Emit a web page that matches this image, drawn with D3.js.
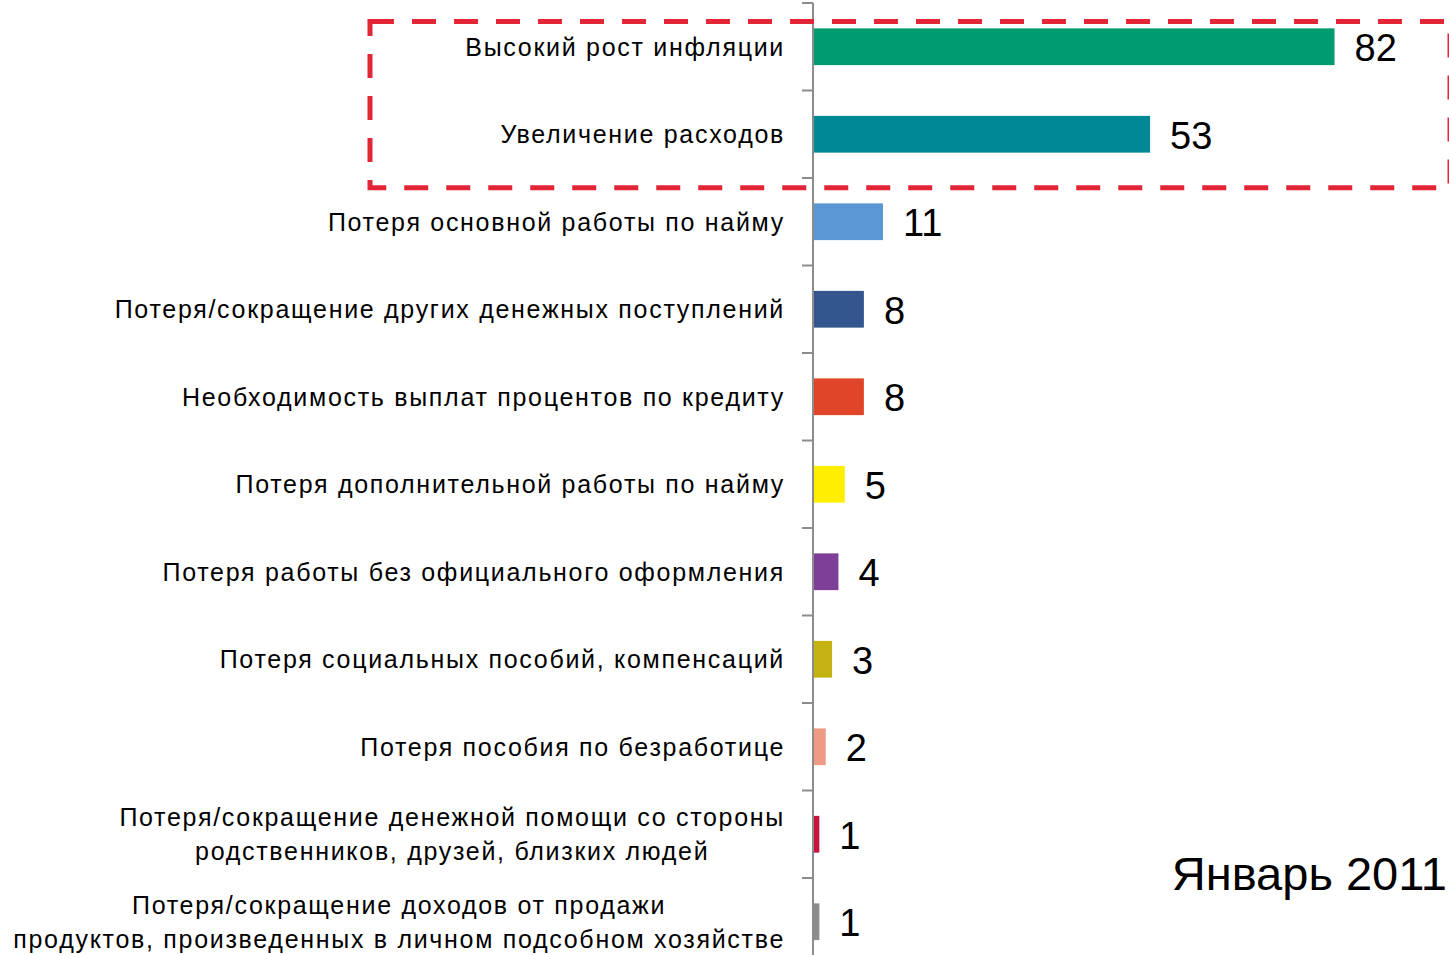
<!DOCTYPE html>
<html>
<head>
<meta charset="utf-8">
<script src="https://cdn.jsdelivr.net/npm/d3@7"></script>
<style>
  body { margin: 0; background: #fff; }
  svg { display: block; }
</style>
</head>
<body>
<div id="chart"></div>
<script>
// categories (top to bottom), lines split where the label wraps
const categories = [
    ["Высокий рост инфляции"],
    ["Увеличение расходов"],
    ["Потеря основной работы по найму"],
    ["Потеря/сокращение других денежных поступлений"],
    ["Необходимость выплат процентов по кредиту"],
    ["Потеря дополнительной работы по найму"],
    ["Потеря работы без официального оформления"],
    ["Потеря социальных пособий, компенсаций"],
    ["Потеря пособия по безработице"],
    ["Потеря/сокращение денежной помощи со стороны", "родственников, друзей, близких людей"],
    ["Потеря/сокращение доходов от продажи", "продуктов, произведенных в личном подсобном хозяйстве"]
];
const values = [82, 53, 11, 8, 8, 5, 4, 3, 2, 1, 1];
const colors = ["#009b6e", "#008896", "#5b97d3", "#34568e", "#e0452a", "#ffee00",
                "#7d3f98", "#c4b212", "#ee9a85", "#c8143c", "#8c8c8c"];
const highlighted = [0, 1];
const periodLabel = "Январь 2011";

const width = 1449, height = 955;
const margin = {top: 3, left: 813};

const svg = d3.select("#chart").append("svg")
    .attr("width", width)
    .attr("height", height);

// x scale: 0..100 fills the space right of the axis
const x = d3.scaleLinear()
    .domain([0, 100])
    .range([margin.left, width]);

// one band per category, 87.5px each
const y = d3.scaleBand()
    .domain(d3.range(categories.length))
    .range([margin.top, margin.top + 87.5 * categories.length])
    .paddingInner(0.58)
    .paddingOuter(0.29);

const step = y.step();

// bars
svg.append("g")
    .selectAll("rect")
    .data(values)
    .enter().append("rect")
    .attr("x", x(0))
    .attr("y", (d, i) => y(i))
    .attr("width", d => x(d) - x(0))
    .attr("height", y.bandwidth())
    .attr("fill", (d, i) => colors[i]);

// axis line with ticks between categories (Excel style)
const axis = svg.append("g").attr("stroke", "#8c8c8c").attr("stroke-width", 2);
axis.append("line")
    .attr("x1", x(0)).attr("x2", x(0))
    .attr("y1", margin.top).attr("y2", height);
d3.range(categories.length + 1).forEach(i => {
    const yy = margin.top + i * step;
    axis.append("line")
        .attr("x1", x(0) - 11).attr("x2", x(0))
        .attr("y1", yy).attr("y2", yy);
});

// value labels
svg.append("g")
    .selectAll("text")
    .data(values)
    .enter().append("text")
    .attr("x", d => x(d) + 20)
    .attr("y", (d, i) => y(i) + y.bandwidth() / 2)
    .attr("dy", "0.38em")
    .attr("font-family", "'Liberation Sans', Arial, sans-serif")
    .attr("font-size", 38)
    .attr("fill", "#000")
    .text(d => d);

// category labels, multi-line ones centred as a block
const labelRight = 785;
const lineGap = 34;
const labels = svg.append("g")
    .attr("font-family", "'Liberation Sans', Arial, sans-serif")
    .attr("font-size", 25)
    .attr("letter-spacing", "1.7px")
    .attr("fill", "#000");

categories.forEach((lines, i) => {
    const cy = y(i) + y.bandwidth() / 2;
    const t = labels.append("text").attr("text-anchor", "end");
    lines.forEach((line, j) => {
        t.append("tspan")
            .attr("x", labelRight)
            .attr("y", cy + (j - (lines.length - 1) / 2) * lineGap)
            .attr("dy", "0.36em")
            .text(line);
    });
    if (lines.length > 1) {
        // centre every line on the widest one
        const spans = t.selectAll("tspan").nodes();
        const maxW = d3.max(spans, n => n.getComputedTextLength());
        t.attr("text-anchor", "middle");
        t.selectAll("tspan").attr("x", labelRight - maxW / 2);
    }
});

// red dashed frame around the first two categories
const first = highlighted[0], last = highlighted[highlighted.length - 1];
svg.append("rect")
    .attr("x", 370)
    .attr("y", y(first) - 7)
    .attr("width", width + 1 - 370)
    .attr("height", y(last) + y.bandwidth() + 35 - (y(first) - 7))
    .attr("fill", "none")
    .attr("stroke", "#e32636")
    .attr("stroke-width", 5)
    .attr("stroke-dasharray", "24 18");

// period label
svg.append("text")
    .attr("x", width - 2)
    .attr("y", 890)
    .attr("text-anchor", "end")
    .attr("font-family", "'Liberation Sans', Arial, sans-serif")
    .attr("font-size", 47)
    .attr("fill", "#000")
    .text(periodLabel);
</script>
</body>
</html>
